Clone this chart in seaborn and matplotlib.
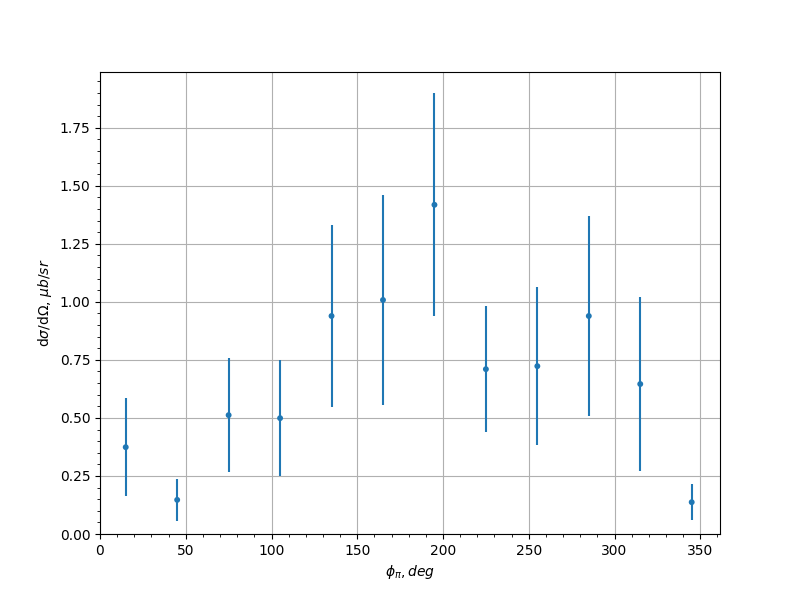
import matplotlib
matplotlib.use("Agg")
import matplotlib.pyplot as plt
import seaborn as sns
import pandas as pd

# azimuthal bins (deg), cross section and its error
phi = [15, 45, 75, 105, 135, 165, 195, 225, 255, 285, 315, 345]
xsec = [0.374, 0.147, 0.512, 0.499, 0.939, 1.008, 1.418, 0.710, 0.723, 0.939, 0.646, 0.137]
err = [0.210, 0.089, 0.247, 0.249, 0.394, 0.454, 0.480, 0.272, 0.340, 0.432, 0.374, 0.077]

df = pd.DataFrame({'phi': phi, 'xsec': xsec, 'err': err})

fig, ax = plt.subplots(figsize=(8, 6), dpi=100)

ax.errorbar(df['phi'], df['xsec'], yerr=df['err'], fmt='none', ecolor='#1f77b4', elinewidth=1.5)
sns.scatterplot(data=df, x='phi', y='xsec', ax=ax, color='#1f77b4', s=18, edgecolor='none', zorder=3)

ax.set_xlim(left=0)
ax.set_ylim(bottom=0)
ax.minorticks_on()
ax.grid(True, which='major')
ax.set_axisbelow(True)

ax.set_xlabel(r'$\phi_{\pi}, deg$')
ax.set_ylabel(r'd$\sigma$/d$\Omega$, $\mu b/sr$')

plt.savefig("out.png", dpi=100)
plt.close()
